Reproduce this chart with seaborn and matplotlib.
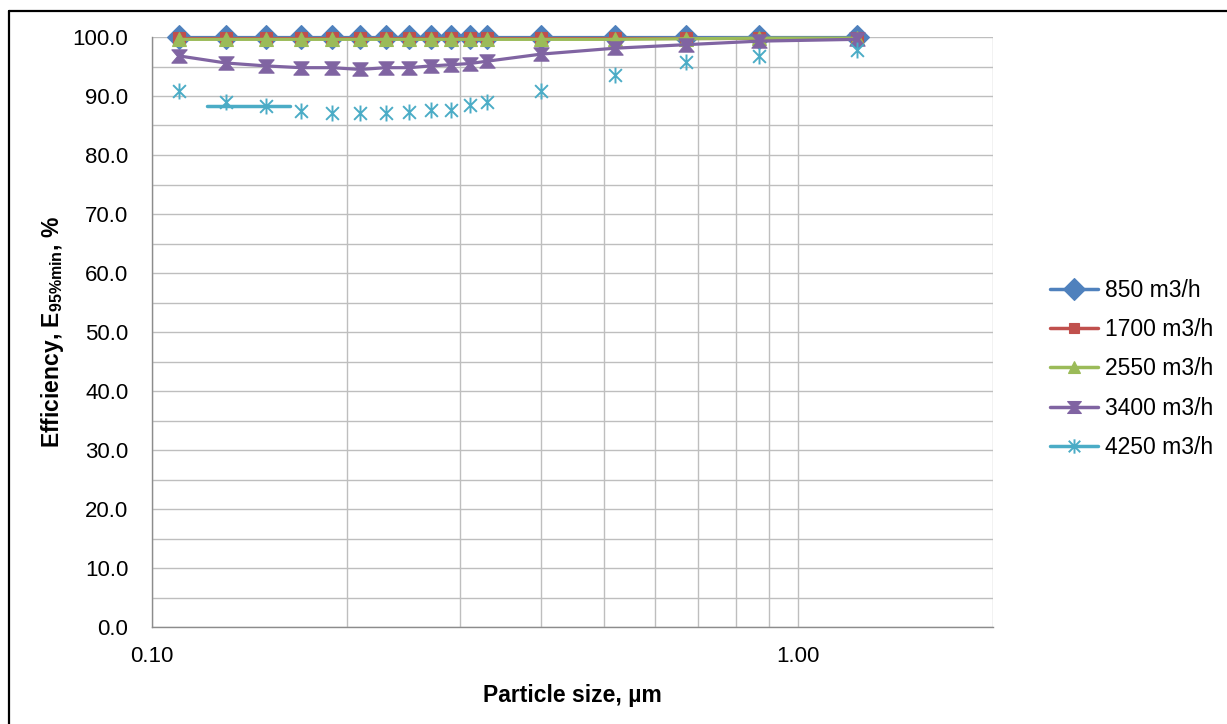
import numpy as np
import pandas as pd
import matplotlib
matplotlib.use("Agg")
import matplotlib.pyplot as plt
from matplotlib.path import Path
from matplotlib.lines import Line2D
from matplotlib.ticker import FixedLocator, FuncFormatter, NullFormatter
import seaborn as sns

# ---------------- data ----------------
particle_size = [0.11, 0.13, 0.15, 0.17, 0.19, 0.21, 0.23, 0.25, 0.27, 0.29,
                 0.31, 0.33, 0.40, 0.52, 0.67, 0.87, 1.23]
eff_850 = [100.0] * 17
eff_1700 = [99.9, 99.9, 99.9, 99.9, 99.9, 99.9, 99.9, 99.9, 99.9, 99.9,
            99.9, 99.9, 99.9, 99.9, 99.9, 99.9, 99.9]
eff_2550 = [99.6, 99.6, 99.6, 99.6, 99.6, 99.6, 99.6, 99.6, 99.6, 99.6,
            99.6, 99.6, 99.6, 99.6, 99.7, 99.8, 99.8]
eff_3400 = [96.8, 95.6, 95.1, 94.8, 94.8, 94.5, 94.8, 94.8, 95.1, 95.3,
            95.5, 95.9, 97.1, 98.1, 98.7, 99.3, 99.6]
eff_4250 = [90.9, 88.9, 88.3, 87.5, 87.2, 87.2, 87.2, 87.3, 87.6, 87.7,
            88.5, 88.9, 90.9, 93.6, 95.8, 96.7, 97.8]
# stray line segment visible in the reference (4250 series colour)
stray_x = [0.1216, 0.1636]
stray_y = [88.3, 88.3]

series_labels = ["850 m3/h", "1700 m3/h", "2550 m3/h", "3400 m3/h", "4250 m3/h"]
series_values = [eff_850, eff_1700, eff_2550, eff_3400, eff_4250]
y_ticks = [0, 10, 20, 30, 40, 50, 60, 70, 80, 90, 100]
x_ticks = [0.1, 1.0]

# ---------------- style ----------------
sns.set_style("white")
plt.rcParams["font.family"] = ["Liberation Sans", "DejaVu Sans"]
plt.rcParams["mathtext.fontset"] = "custom"
plt.rcParams["mathtext.rm"] = "Liberation Sans"
plt.rcParams["mathtext.bf"] = "Liberation Sans:bold"
plt.rcParams["text.color"] = "black"
plt.rcParams["axes.labelcolor"] = "black"

colors = ["#4F81BD", "#C0504D", "#9BBB59", "#8064A2", "#4BACC6"]

hourglass = Path([(-1, 0.87), (1, 0.87), (0.25, 0), (1, -0.87), (-1, -0.87),
                  (-0.25, 0), (-1, 0.87)],
                 [Path.MOVETO, Path.LINETO, Path.LINETO, Path.LINETO,
                  Path.LINETO, Path.LINETO, Path.CLOSEPOLY])
asterisk = Path([(0, -1), (0, 1), (-0.8, -0.8), (0.8, 0.8), (-0.8, 0.8), (0.8, -0.8)],
                [Path.MOVETO, Path.LINETO, Path.MOVETO, Path.LINETO,
                 Path.MOVETO, Path.LINETO])
markers = ["D", "s", "^", hourglass, asterisk]
msizes = [12.5, 8, 10, 11, 11.5]
show_line = [True, True, True, True, False]

W, H = 1227, 724
fig = plt.figure(figsize=(W / 100, H / 100), dpi=100)
ax = fig.add_axes([152 / W, 1 - 627 / H, (993 - 152) / W, (627 - 37) / H])

for lab, vals, c, m, ms, sl in zip(series_labels, series_values, colors,
                                   markers, msizes, show_line):
    df = pd.DataFrame({"x": particle_size, "y": vals})
    sns.lineplot(data=df, x="x", y="y", ax=ax, color=c,
                 linewidth=2.3 if sl else 0, linestyle="-" if sl else "none",
                 marker=m, markersize=ms, markerfacecolor=c,
                 markeredgecolor=c, markeredgewidth=1.4 if m is asterisk else 0.8,
                 sort=False, zorder=3, clip_on=False)

sns.lineplot(x=stray_x, y=stray_y, ax=ax, color=colors[4], linewidth=2.5,
             zorder=2)

ax.set_xscale("log")
ax.set_xlim(0.1, 2.0)
ax.set_ylim(0, 100)

ax.xaxis.set_major_locator(FixedLocator(x_ticks))
ax.xaxis.set_major_formatter(FuncFormatter(lambda v, p: f"{v:.2f}"))
ax.xaxis.set_minor_locator(FixedLocator([0.2, 0.3, 0.4, 0.5, 0.6, 0.7, 0.8, 0.9, 2.0]))
ax.xaxis.set_minor_formatter(NullFormatter())
ax.yaxis.set_major_locator(FixedLocator(y_ticks))
ax.yaxis.set_minor_locator(FixedLocator(list(range(5, 100, 10))))
ax.yaxis.set_major_formatter(FuncFormatter(lambda v, p: f"{v:.1f}"))

grid_c = "#BEBEBE"
ax.grid(True, which="both", color=grid_c, linewidth=1.0)
ax.set_axisbelow(True)
for s in ["top", "right"]:
    ax.spines[s].set_visible(False)
for s in ["left", "bottom"]:
    ax.spines[s].set_color("#8C8C8C")
    ax.spines[s].set_linewidth(1.0)

ax.tick_params(axis="both", which="major", direction="out", length=5,
               color="#8C8C8C", width=1.0, labelsize=16, labelcolor="black")
ax.tick_params(axis="both", which="minor", length=0)
ax.tick_params(axis="x", which="major", pad=9)
ax.tick_params(axis="y", which="major", pad=12)

ax.set_xlabel("Particle size, µm", fontsize=16.5, fontweight="bold", labelpad=12)
ax.set_ylabel(r"Efficiency, E$_{\mathbf{95\%min}}$, %", fontsize=16.5,
              fontweight="bold", labelpad=5)

handles = [Line2D([0], [0], color=c, linewidth=2.5, marker=m,
                  markersize=ms * 0.9, markerfacecolor=c, markeredgecolor=c,
                  markeredgewidth=1.4 if m is asterisk else 0.8)
           for c, m, ms in zip(colors, markers, msizes)]
fig.legend(handles, series_labels, loc="center left",
           bbox_to_anchor=(1050 / W, 1 - 369 / H), bbox_transform=fig.transFigure,
           frameon=False, fontsize=16.5, handlelength=2.1, handletextpad=0.3,
           labelspacing=0.7, borderpad=0, borderaxespad=0)

# outer chart border (left and top edges visible in reference)
fig.add_artist(Line2D([9 / W, 9 / W], [0, 1 - 11 / H], transform=fig.transFigure,
                      color="black", linewidth=1.6))
fig.add_artist(Line2D([9 / W, 1], [1 - 11 / H, 1 - 11 / H], transform=fig.transFigure,
                      color="black", linewidth=1.6))

fig.savefig("out.png", dpi=100)
